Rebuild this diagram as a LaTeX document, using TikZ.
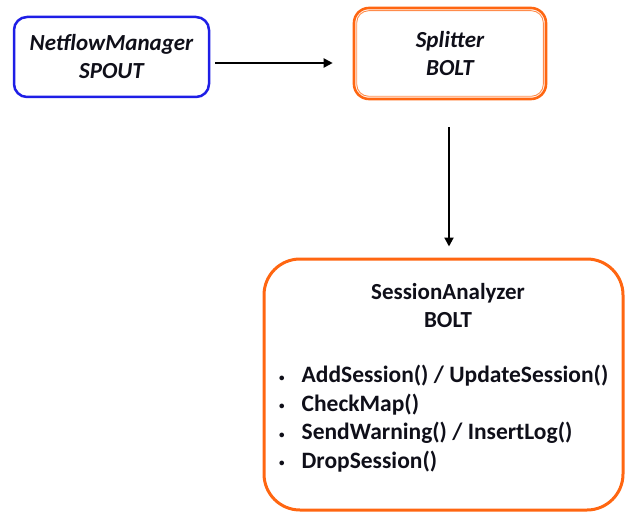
\documentclass[tikz,border=0pt]{standalone}
\usepackage{fontspec}
\setmainfont{Carlito}
\usetikzlibrary{calc,arrows.meta}
\definecolor{boxblue}{RGB}{30,30,230}
\definecolor{boxorange}{RGB}{255,102,17}
\definecolor{txt}{RGB}{15,15,25}
\begin{document}
\begin{tikzpicture}[x=1pt,y=-1pt,
  boxbase/.style={inner sep=0pt, align=center, text=txt},
  spoutbox/.style={boxbase, draw=boxblue, line width=2.5pt, rounded corners=13pt},
  splitbox/.style={boxbase, draw=boxorange, line width=2.6pt, rounded corners=15pt},
  innerline/.style={draw=boxorange!75, line width=0.9pt, rounded corners=12pt},
  bigbox/.style={boxbase, draw=boxorange, line width=3pt, rounded corners=36pt},
  arr/.style={line width=2pt, -{Triangle[length=9pt,width=9pt]}},
  ttl/.style={font=\bfseries\itshape\fontsize{23}{28}\selectfont},
]
\useasboundingbox (0,0) rectangle (626,513);
\node[spoutbox, minimum width=195pt, minimum height=80pt, ttl] (nm) at (111.5,57) {NetflowManager\\SPOUT};
\node[splitbox, minimum width=192pt, minimum height=91pt, ttl] (sp) at (450,53.5) {Splitter\\BOLT};
\draw[innerline] ($(sp.north west)+(4,4)$) rectangle ($(sp.south east)+(-4,-4)$);
\node[bigbox, minimum width=359pt, minimum height=251pt] (sa) at (443.5,384.5) {};
\node[boxbase, font=\bfseries\fontsize{23}{28}\selectfont] (sat) at (448,306) {SessionAnalyzer\\BOLT};
\node[boxbase, anchor=west, font=\bfseries\fontsize{23.5}{28.5}\selectfont] (sal) at (279,420)
 {\begin{tabular}{@{}l@{\hspace{17pt}}l@{}}
  {\fontsize{11}{11}\selectfont\raisebox{1.5pt}{•}} & AddSession() / UpdateSession()\\
  {\fontsize{11}{11}\selectfont\raisebox{1.5pt}{•}} & CheckMap()\\
  {\fontsize{11}{11}\selectfont\raisebox{1.5pt}{•}} & SendWarning() / InsertLog()\\
  {\fontsize{11}{11}\selectfont\raisebox{1.5pt}{•}} & DropSession()
 \end{tabular}};
\draw[arr] ($(nm.east)+(5,6)$) -- ($(sp.west)+(-20,9.5)$);
\draw[arr] ($(sp.south)+(-1,27)$) -- ($(sp.south |- sa.north)+(-1,-11)$);
\end{tikzpicture}
\end{document}
